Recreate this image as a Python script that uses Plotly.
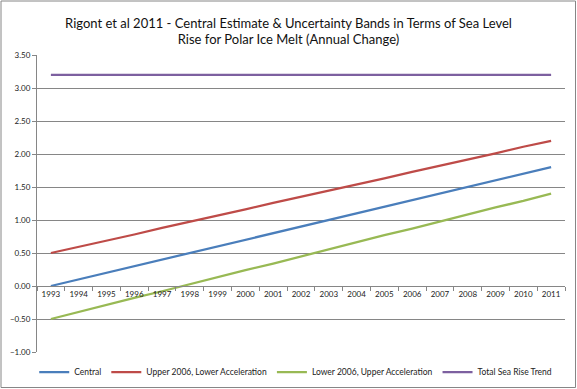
import plotly.graph_objects as go

years = [str(y) for y in range(1993, 2012)]
central = [0.00, 0.10, 0.20, 0.30, 0.40, 0.50, 0.60, 0.70, 0.80, 0.90, 1.00,
           1.10, 1.20, 1.30, 1.40, 1.50, 1.60, 1.70, 1.80]
upper = [0.50, 0.59, 0.69, 0.78, 0.88, 0.97, 1.07, 1.16, 1.26, 1.35, 1.44,
         1.54, 1.63, 1.73, 1.82, 1.92, 2.01, 2.11, 2.20]
lower = [-0.50, -0.39, -0.29, -0.18, -0.08, 0.03, 0.13, 0.24, 0.34, 0.45, 0.56,
         0.66, 0.77, 0.87, 0.98, 1.08, 1.19, 1.29, 1.40]
total = [3.20] * 19

series = [
    ("Central", central, "#4A7EBB"),
    ("Upper 2006, Lower Acceleration", upper, "#BE4B48"),
    ("Lower 2006, Upper Acceleration", lower, "#98B954"),
    ("Total Sea Rise Trend", total, "#7D60A0"),
]

FONT = "Lato, 'Open Sans', sans-serif"

fig = go.Figure()
for name, vals, color in series:
    fig.add_trace(go.Scatter(x=years, y=vals, name=name, mode="lines",
                             line=dict(color=color, width=2.25)))

W, H = 577, 389
ml, mr, mt, mb = 37, 12, 55, 37
pw, ph = W - ml - mr, H - mt - mb
ymin, ymax = -1.0, 3.5

fig.update_layout(
    width=W, height=H,
    margin=dict(l=ml, r=mr, t=mt, b=mb, autoexpand=False),
    paper_bgcolor="white", plot_bgcolor="white",
    font=dict(family=FONT, size=9, color="#222"),
    title=dict(text="Rigont et al 2011 - Central Estimate & Uncertainty Bands in Terms of Sea Level<br>Rise for Polar Ice Melt (Annual Change)",
               x=0.5, xanchor="center", y=1 - 27.5 / H, yanchor="middle",
               font=dict(family=FONT, size=13, color="#111")),
    showlegend=True,
    legend=dict(orientation="h", x=0.49, xanchor="center",
                yref="container", y=1 - 372 / H, yanchor="middle",
                font=dict(family=FONT, size=8.5, color="#222"),
                itemwidth=30, tracegroupgap=0, bgcolor="rgba(0,0,0,0)"),
    xaxis=dict(type="category", anchor="free", position=(0 - ymin) / (ymax - ymin),
               showline=True, linecolor="#868686", linewidth=1,
               ticks="outside", tickson="boundaries", ticklen=4, tickcolor="#868686",
               showgrid=False, zeroline=False, tickangle=0,
               tickfont=dict(family=FONT, size=8, color="#222"),
               range=[-0.5, 18.5], fixedrange=True),
    yaxis=dict(range=[ymin, ymax], dtick=0.5, tick0=0, tickformat=".2f",
               showline=True, linecolor="#868686", linewidth=1,
               ticks="outside", ticklen=4, tickcolor="#868686",
               showgrid=True, gridcolor="#868686", gridwidth=1,
               zeroline=False,
               tickfont=dict(family=FONT, size=8, color="#222")),
)

# outer chart border
fig.add_shape(type="rect", xref="paper", yref="paper", layer="below",
              x0=(1 - ml) / pw, x1=(W - 1.5 - ml) / pw,
              y0=-(mb - 1.5) / ph, y1=1 + (mt - 1) / ph,
              line=dict(color="#868686", width=1))

fig.write_html("out.html", config={"displayModeBar": False},
               post_script="document.body.style.margin='0';document.body.style.overflow='hidden';")
